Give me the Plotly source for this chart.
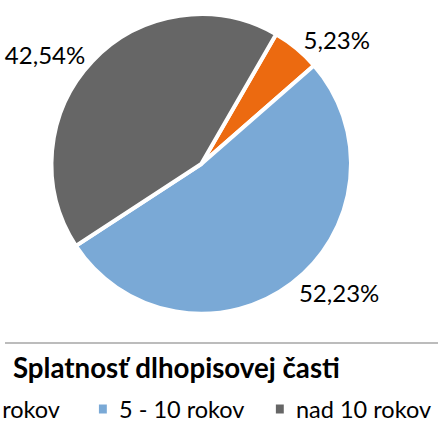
import plotly.graph_objects as go

labels = ["do 5 rokov", "5 - 10 rokov", "nad 10 rokov"]
values = [5.23, 52.23, 42.54]
colors = ["#EC6A10", "#7AA9D6", "#666666"]
title_text = "Splatnosť dlhopisovej časti"

W, H = 438, 423


def px(x):
    return x / W


def py(y):
    return (H - y) / H


fig = go.Figure(
    go.Pie(
        labels=labels,
        values=values,
        sort=False,
        direction="clockwise",
        rotation=30,
        marker=dict(colors=colors, line=dict(color="white", width=4)),
        textposition="outside",
        texttemplate="%{percent:.2%}",
        outsidetextfont=dict(family="Lato", size=24, color="#000000"),
        domain=dict(x=[px(47), px(350)], y=[py(315.5), py(12.5)]),
        hoverinfo="label+percent",
        showlegend=False,
    )
)

# Legend (the reference image is cropped, so the first entry is cut at the left edge)
legend_text_x = [58, 113, 292]        # right edge of 1st text, left edge of the others
legend_anchor = ["right", "left", "left"]
legend_y = 408.5
legend_size = 23.5
annotations = []
shapes = []
for lab, tx, anc in zip(labels, legend_text_x, legend_anchor):
    annotations.append(
        dict(
            text=lab,
            x=px(tx),
            y=py(legend_y),
            xref="paper",
            yref="paper",
            xanchor=anc,
            yanchor="middle",
            showarrow=False,
            font=dict(family="Lato", size=legend_size, color="#000000"),
        )
    )
for col, tx in zip(colors[1:], legend_text_x[1:]):
    shapes.append(
        dict(
            type="rect",
            xref="paper",
            yref="paper",
            x0=px(tx - 18),
            x1=px(tx - 10),
            y0=py(legend_y + 5),
            y1=py(legend_y - 4),
            fillcolor=col,
            line=dict(width=0),
        )
    )

shapes.append(
    dict(
        type="line",
        xref="paper",
        yref="paper",
        x0=0,
        x1=1,
        y0=py(343),
        y1=py(343),
        line=dict(color="#A6A6A6", width=1.5),
    )
)

fig.update_layout(
    width=W,
    height=H,
    margin=dict(l=0, r=0, t=0, b=0),
    paper_bgcolor="white",
    plot_bgcolor="white",
    separators=",.",
    font=dict(family="Lato", color="#000000"),
    title=dict(
        text="<b>" + title_text + "</b>",
        x=px(8),
        xanchor="left",
        xref="paper",
        y=py(368),
        yref="paper",
        yanchor="middle",
        font=dict(family="Lato", size=27.7, color="#000000"),
    ),
    showlegend=False,
    annotations=annotations,
    shapes=shapes,
)

# let the figure sit at the window's top-left corner (no default body margin)
fig.write_html(
    "out.html",
    config={"displayModeBar": False},
    post_script="document.body.style.margin='0px';",
)
